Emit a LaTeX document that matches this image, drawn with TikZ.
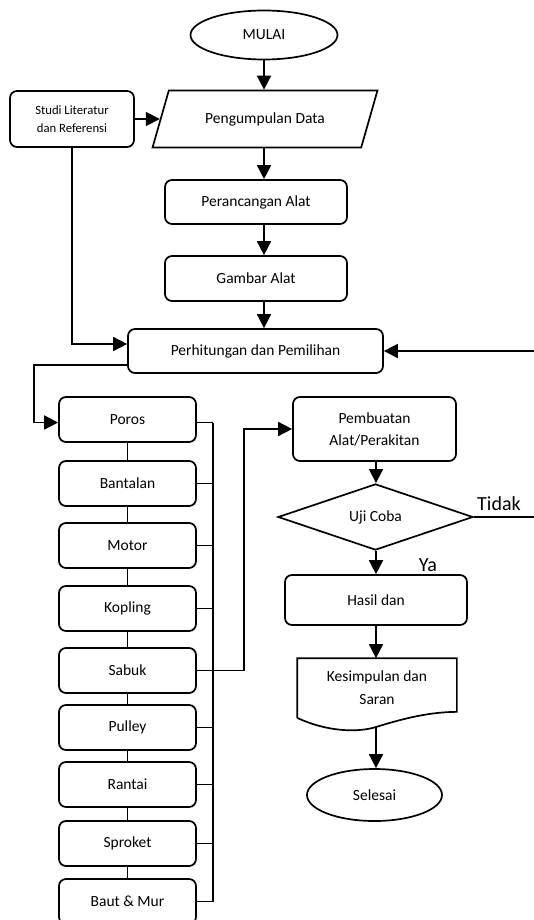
\documentclass[tikz,border=0pt]{standalone}
\usepackage{fontspec}
\setmainfont{Carlito}
\usetikzlibrary{arrows.meta,positioning,shapes.geometric}

\begin{document}
\begin{tikzpicture}[
  x=1pt, y=-1pt,
  line width=1.7pt,
  box/.style={draw, rounded corners=7pt, minimum width=182pt, minimum height=44pt, align=center, font=\fontsize{15.5}{22}\selectfont},
  partbox/.style={box, minimum width=137pt, minimum height=45pt},
  term/.style={draw, ellipse, minimum width=147pt, minimum height=49pt, font=\fontsize{15.5}{22}\selectfont},
  io/.style={draw, trapezium, trapezium left angle=62, trapezium right angle=118, trapezium stretches=true, minimum width=225pt, minimum height=57pt, font=\fontsize{15.5}{22}\selectfont},
  decide/.style={draw, diamond, minimum width=195pt, minimum height=56pt, inner sep=0pt, font=\fontsize{15.5}{22}\selectfont},
  lbl/.style={font=\fontsize{20}{24}\selectfont},
  arr/.style={-{Triangle[length=14pt, width=14pt]}},
  link/.style={-}
]
\useasboundingbox (0,0) rectangle (534,920);

% Main flow
\node[term] (mulai) at (264,35) {MULAI};
\node[io] (data) at (265,119) {Pengumpulan Data};
\node[box, minimum width=124pt, minimum height=56pt, font=\fontsize{12.7}{18}\selectfont] (studi) at (72,119) {Studi Literatur\\dan Referensi};
\node[box] (rancang) at (256,202) {Perancangan Alat};
\node[box, minimum height=45pt] (gambar) at (256,278.5) {Gambar Alat};
\node[box, minimum width=255pt] (hitung) at (255.5,351) {Perhitungan dan Pemilihan};

\draw[arr] (mulai.south) -- (mulai.south |- data.north);
\draw[arr] (studi.east) -- (data);
\draw[arr] (mulai.south |- data.south) -- (mulai.south |- rancang.north);
\draw[arr] (mulai.south |- rancang.south) -- (mulai.south |- gambar.north);
\draw[arr] (mulai.south |- gambar.south) -- (mulai.south |- hitung.north);
\draw[arr] (studi.south) |- ([yshift=7pt]hitung.west);
\coordinate (ulang) at (534,351);
\draw[arr] (ulang) -- (hitung.east);

% Parts
\node[partbox] (poros) at (127.5,419.5) {Poros};
\node[partbox] (bantalan) at (127.5,483.5) {Bantalan};
\node[partbox] (motor) at (127.5,545.5) {Motor};
\node[partbox] (kopling) at (127.5,608.5) {Kopling};
\node[partbox] (sabuk) at (127.5,670.5) {Sabuk};
\node[partbox] (pulley) at (127.5,727.5) {Pulley};
\node[partbox] (rantai) at (127.5,784.5) {Rantai};
\node[partbox] (sproket) at (127.5,843.5) {Sproket};
\node[partbox] (baut) at (127.5,901.5) {Baut \& Mur};

\draw[arr] ([yshift=9pt]hitung.south west) -- ++(-93,0) |- ([yshift=-3pt]poros.west);
\foreach \a/\b in {poros/bantalan, bantalan/motor, motor/kopling, kopling/sabuk,
                   sabuk/pulley, pulley/rantai, rantai/sproket, sproket/baut}
  \draw[link] (\a.south) -- (\b.north);

\coordinate (bus) at (213,0);
\draw[link] ([yshift=-3pt]poros.east) -- ([yshift=-3pt]poros.east -| bus);
\foreach \p in {bantalan, motor, kopling, pulley, rantai, sproket, baut}
  \draw[link] (\p.east) -- (\p.east -| bus);
\draw[link] ([yshift=-3pt]poros.east -| bus) -- (baut.east -| bus);

% Assembly and testing
\node[box, minimum width=163pt, minimum height=64pt] (buat) at (374.5,429) {Pembuatan\\Alat/Perakitan};
\node[decide] (uji) at (375.5,517) {Uji Coba};
\node[box, minimum height=50pt] (hasil) at (376,600) {Hasil dan};
\node[minimum width=158pt, minimum height=58pt, align=center, font=\fontsize{15.5}{23}\selectfont] (kes) at (377,688) {Kesimpulan dan\\Saran};
\draw (kes.south west) -- (kes.north west) -- (kes.north east) -- ([yshift=6pt]kes.south east)
  .. controls (430,712) and (405,718) .. (376,727)
  .. controls (360,732) and (330,733) .. (kes.south west);
\coordinate (kesb) at (376,727);
\node[term, minimum width=135pt, minimum height=52pt] (selesai) at (374.5,795) {Selesai};

\draw[arr] (sabuk.east) -- ++(47,0) |- (buat.west);
\draw[arr] (buat.south -| kesb) -- (uji.north -| kesb);
\draw[arr] (uji.south -| kesb) -- (hasil.north -| kesb);
\draw[arr] (hasil.south -| kesb) -- (kes.north -| kesb);
\draw[arr] (kesb) -- (selesai.north -| kesb);

\coordinate (tidakend) at (534,517);
\draw[link] (uji.east) -- (tidakend);
\node[lbl] (tidak) at (499,504) {Tidak};
\node[lbl] (ya) at (428,565) {Ya};

\end{tikzpicture}
\end{document}
